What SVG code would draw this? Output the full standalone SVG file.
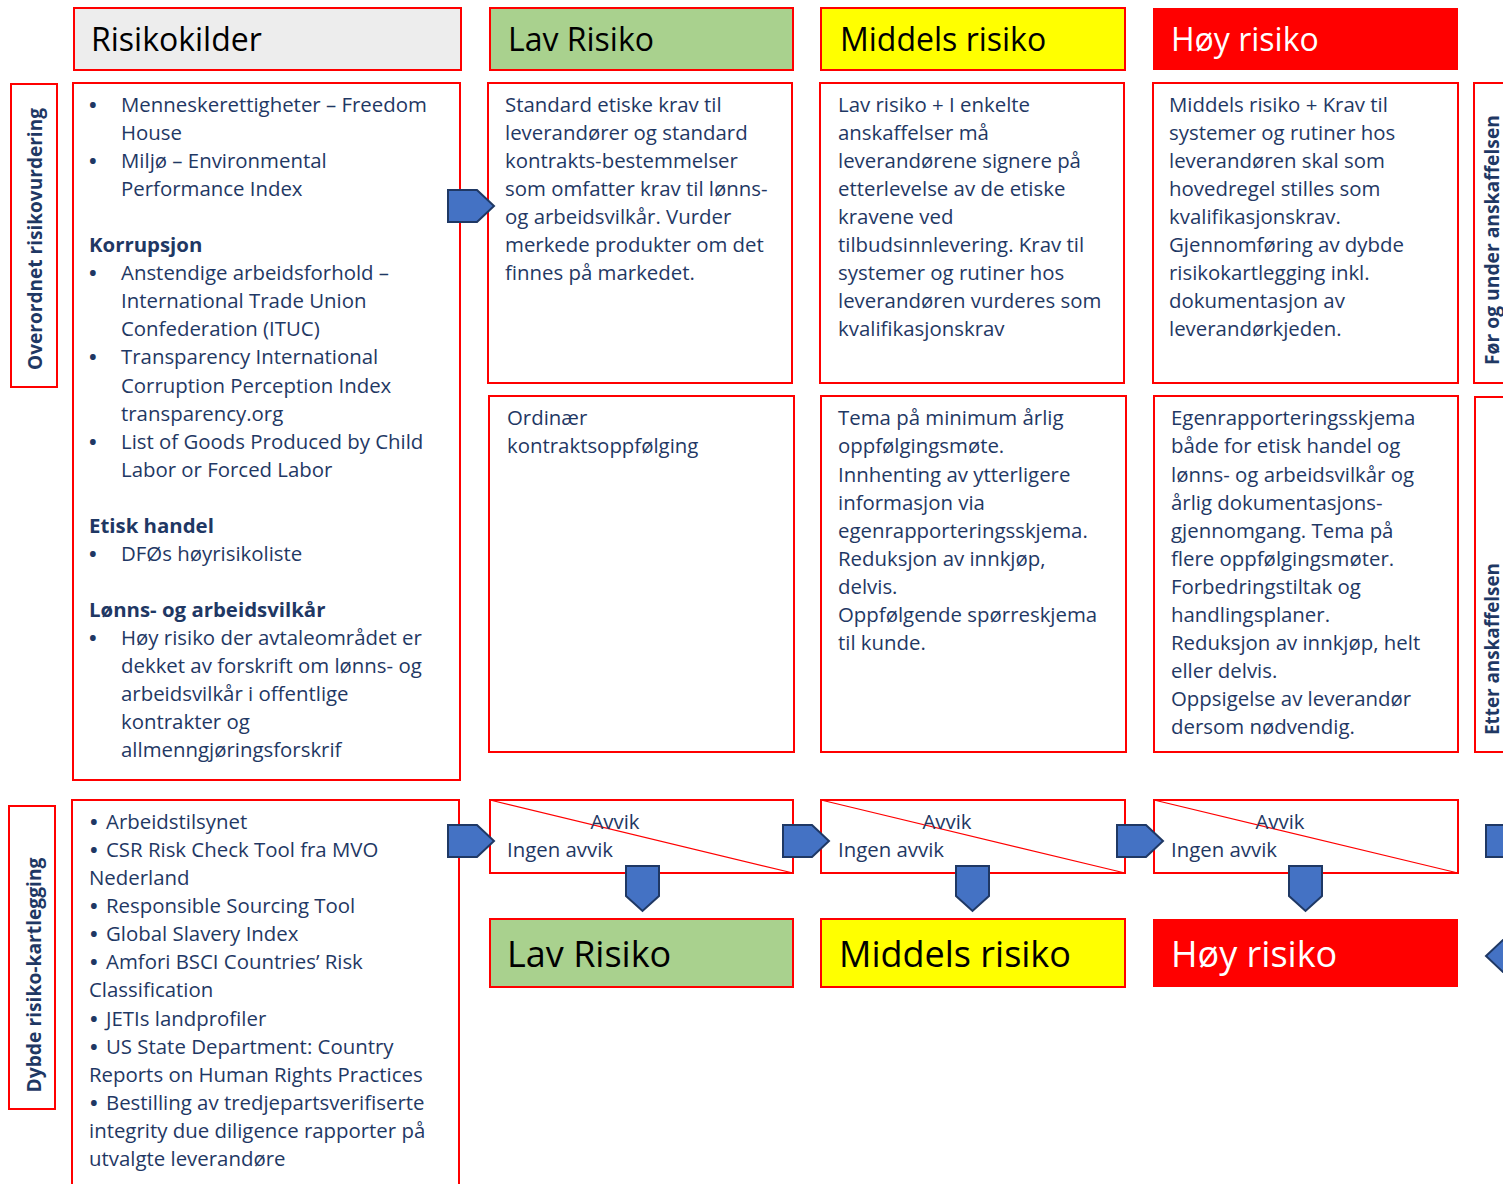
<svg xmlns="http://www.w3.org/2000/svg" width="1503" height="1184" viewBox="0 0 1503 1184">
<defs>
<style>
.box{fill:#fff;stroke:#ff0000;stroke-width:2}
.hdr{stroke:#ff0000;stroke-width:2}
.t{font-family:"Open Sans",Lato,"Liberation Sans",sans-serif;font-size:20.4px;fill:#1f3864}
.b{font-weight:bold}
.bl{font-weight:bold}
.h{font-family:"Open Sans",Lato,"Liberation Sans",sans-serif;font-size:32px;fill:#000}
.hb{font-family:"Open Sans",Lato,"Liberation Sans",sans-serif;font-size:36px;fill:#000}
.v{font-family:"Open Sans",Lato,"Liberation Sans",sans-serif;font-size:19px;font-weight:bold;fill:#1f3864}
.arr{fill:#4472c4;stroke:#1f3864;stroke-width:2;stroke-linejoin:miter}
.diag{stroke:#ff0000;stroke-width:1.2}
</style>
</defs>
<rect width="1503" height="1184" fill="#fff"/>

<g id="hdr-risikokilder"><rect class="hdr" x="74" y="8" width="387" height="62" fill="#ededed"/><text class="h" x="91" y="51">Risikokilder</text></g>
<g id="hdr-lav"><rect class="hdr" x="490" y="8" width="303" height="62" fill="#a9d18e"/><text class="h" x="508" y="51">Lav Risiko</text></g>
<g id="hdr-middels"><rect class="hdr" x="821" y="8" width="304" height="62" fill="#ffff00"/><text class="h" x="840" y="51">Middels risiko</text></g>
<g id="hdr-hoy"><rect x="1153" y="8" width="305" height="62" fill="#ff0000"/><text class="h" x="1171" y="51" style="fill:#fff">Høy risiko</text></g>

<g id="lbl-overordnet"><rect class="box" x="11" y="84" width="46" height="303"/><text class="v" transform="translate(42,239) rotate(-90)" text-anchor="middle" textLength="262" lengthAdjust="spacingAndGlyphs">Overordnet risikovurdering</text></g>
<g id="lbl-dybde"><rect class="box" x="9" y="806" width="46" height="303"/><text class="v" transform="translate(41,975) rotate(-90)" text-anchor="middle" textLength="235" lengthAdjust="spacingAndGlyphs">Dybde risiko-kartlegging</text></g>
<g id="lbl-for"><rect class="box" x="1474" y="83" width="40" height="300"/><text class="v" transform="translate(1499,240) rotate(-90)" text-anchor="middle" textLength="250" lengthAdjust="spacingAndGlyphs">Før og under anskaffelsen</text></g>
<g id="lbl-etter"><rect class="box" x="1475" y="397" width="40" height="355"/><text class="v" transform="translate(1499,649) rotate(-90)" text-anchor="middle" textLength="172" lengthAdjust="spacingAndGlyphs">Etter anskaffelsen</text></g>

<g id="risikokilder">
<rect class="box" x="73" y="83" width="387" height="697"/>
<text class="t">
<tspan x="89" y="112" class="bl">•</tspan><tspan x="121" y="112">Menneskerettigheter – Freedom</tspan>
<tspan x="121" y="140">House</tspan>
<tspan x="89" y="168" class="bl">•</tspan><tspan x="121" y="168">Miljø – Environmental</tspan>
<tspan x="121" y="196">Performance Index</tspan>
<tspan x="89" y="252" class="b">Korrupsjon</tspan>
<tspan x="89" y="280" class="bl">•</tspan><tspan x="121" y="280">Anstendige arbeidsforhold –</tspan>
<tspan x="121" y="308">International Trade Union</tspan>
<tspan x="121" y="336">Confederation (ITUC)</tspan>
<tspan x="89" y="364" class="bl">•</tspan><tspan x="121" y="364">Transparency International</tspan>
<tspan x="121" y="393">Corruption Perception Index</tspan>
<tspan x="121" y="421">transparency.org</tspan>
<tspan x="89" y="449" class="bl">•</tspan><tspan x="121" y="449">List of Goods Produced by Child</tspan>
<tspan x="121" y="477">Labor or Forced Labor</tspan>
<tspan x="89" y="533" class="b">Etisk handel</tspan>
<tspan x="89" y="561" class="bl">•</tspan><tspan x="121" y="561">DFØs høyrisikoliste</tspan>
<tspan x="89" y="617" class="b">Lønns- og arbeidsvilkår</tspan>
<tspan x="89" y="645" class="bl">•</tspan><tspan x="121" y="645">Høy risiko der avtaleområdet er</tspan>
<tspan x="121" y="673">dekket av forskrift om lønns- og</tspan>
<tspan x="121" y="701">arbeidsvilkår i offentlige</tspan>
<tspan x="121" y="729">kontrakter og</tspan>
<tspan x="121" y="757">allmenngjøringsforskrif</tspan>
</text>
</g>

<g id="lav-for">
<rect class="box" x="488" y="83" width="304" height="300"/>
<text class="t">
<tspan x="505" y="112">Standard etiske krav til</tspan>
<tspan x="505" y="140">leverandører og standard</tspan>
<tspan x="505" y="168">kontrakts-bestemmelser</tspan>
<tspan x="505" y="196">som omfatter krav til lønns-</tspan>
<tspan x="505" y="224">og arbeidsvilkår. Vurder</tspan>
<tspan x="505" y="252">merkede produkter om det</tspan>
<tspan x="505" y="280">finnes på markedet.</tspan>
</text>
</g>

<g id="middels-for">
<rect class="box" x="820" y="83" width="304" height="300"/>
<text class="t">
<tspan x="838" y="112">Lav risiko + I enkelte</tspan>
<tspan x="838" y="140">anskaffelser må</tspan>
<tspan x="838" y="168">leverandørene signere på</tspan>
<tspan x="838" y="196">etterlevelse av de etiske</tspan>
<tspan x="838" y="224">kravene ved</tspan>
<tspan x="838" y="252">tilbudsinnlevering. Krav til</tspan>
<tspan x="838" y="280">systemer og rutiner hos</tspan>
<tspan x="838" y="308">leverandøren vurderes som</tspan>
<tspan x="838" y="336">kvalifikasjonskrav</tspan>
</text>
</g>

<g id="hoy-for">
<rect class="box" x="1153" y="83" width="305" height="300"/>
<text class="t">
<tspan x="1169" y="112">Middels risiko + Krav til</tspan>
<tspan x="1169" y="140">systemer og rutiner hos</tspan>
<tspan x="1169" y="168">leverandøren skal som</tspan>
<tspan x="1169" y="196">hovedregel stilles som</tspan>
<tspan x="1169" y="224">kvalifikasjonskrav.</tspan>
<tspan x="1169" y="252">Gjennomføring av dybde</tspan>
<tspan x="1169" y="280">risikokartlegging inkl.</tspan>
<tspan x="1169" y="308">dokumentasjon av</tspan>
<tspan x="1169" y="336">leverandørkjeden.</tspan>
</text>
</g>

<g id="lav-etter">
<rect class="box" x="489" y="396" width="305" height="356"/>
<text class="t">
<tspan x="507" y="425">Ordinær</tspan>
<tspan x="507" y="453">kontraktsoppfølging</tspan>
</text>
</g>

<g id="middels-etter">
<rect class="box" x="821" y="396" width="305" height="356"/>
<text class="t">
<tspan x="838" y="425">Tema på minimum årlig</tspan>
<tspan x="838" y="453">oppfølgingsmøte.</tspan>
<tspan x="838" y="482">Innhenting av ytterligere</tspan>
<tspan x="838" y="510">informasjon via</tspan>
<tspan x="838" y="538">egenrapporteringsskjema.</tspan>
<tspan x="838" y="566">Reduksjon av innkjøp,</tspan>
<tspan x="838" y="594">delvis.</tspan>
<tspan x="838" y="622">Oppfølgende spørreskjema</tspan>
<tspan x="838" y="650">til kunde.</tspan>
</text>
</g>

<g id="hoy-etter">
<rect class="box" x="1154" y="396" width="304" height="356"/>
<text class="t">
<tspan x="1171" y="425">Egenrapporteringsskjema</tspan>
<tspan x="1171" y="453">både for etisk handel og</tspan>
<tspan x="1171" y="482">lønns- og arbeidsvilkår og</tspan>
<tspan x="1171" y="510">årlig dokumentasjons-</tspan>
<tspan x="1171" y="538">gjennomgang. Tema på</tspan>
<tspan x="1171" y="566">flere oppfølgingsmøter.</tspan>
<tspan x="1171" y="594">Forbedringstiltak og</tspan>
<tspan x="1171" y="622">handlingsplaner.</tspan>
<tspan x="1171" y="650">Reduksjon av innkjøp, helt</tspan>
<tspan x="1171" y="678">eller delvis.</tspan>
<tspan x="1171" y="706">Oppsigelse av leverandør</tspan>
<tspan x="1171" y="734">dersom nødvendig.</tspan>
</text>
</g>

<g id="dybde-kilder">
<rect class="box" x="72" y="800" width="387" height="400"/>
<text class="t">
<tspan x="90" y="829" class="bl">•</tspan><tspan x="106" y="829">Arbeidstilsynet</tspan>
<tspan x="90" y="857" class="bl">•</tspan><tspan x="106" y="857">CSR Risk Check Tool fra MVO</tspan>
<tspan x="89" y="885">Nederland</tspan>
<tspan x="90" y="913" class="bl">•</tspan><tspan x="106" y="913">Responsible Sourcing Tool</tspan>
<tspan x="90" y="941" class="bl">•</tspan><tspan x="106" y="941">Global Slavery Index</tspan>
<tspan x="90" y="969" class="bl">•</tspan><tspan x="106" y="969">Amfori BSCI Countries’ Risk</tspan>
<tspan x="89" y="997">Classification</tspan>
<tspan x="90" y="1026" class="bl">•</tspan><tspan x="106" y="1026">JETIs landprofiler</tspan>
<tspan x="90" y="1054" class="bl">•</tspan><tspan x="106" y="1054">US State Department: Country</tspan>
<tspan x="89" y="1082">Reports on Human Rights Practices</tspan>
<tspan x="90" y="1110" class="bl">•</tspan><tspan x="106" y="1110">Bestilling av tredjepartsverifiserte</tspan>
<tspan x="89" y="1138">integrity due diligence rapporter på</tspan>
<tspan x="89" y="1166">utvalgte leverandøre</tspan>
</text>
</g>

<g id="avvik-lav"><rect class="box" x="490" y="800" width="303" height="73"/><line class="diag" x1="490" y1="800" x2="793" y2="873"/><text class="t" x="615" y="829" text-anchor="middle">Avvik</text><text class="t" x="507" y="857">Ingen avvik</text></g>
<g id="avvik-middels"><rect class="box" x="821" y="800" width="304" height="73"/><line class="diag" x1="821" y1="800" x2="1125" y2="873"/><text class="t" x="947" y="829" text-anchor="middle">Avvik</text><text class="t" x="838" y="857">Ingen avvik</text></g>
<g id="avvik-hoy"><rect class="box" x="1154" y="800" width="304" height="73"/><line class="diag" x1="1154" y1="800" x2="1458" y2="873"/><text class="t" x="1280" y="829" text-anchor="middle">Avvik</text><text class="t" x="1171" y="857">Ingen avvik</text></g>

<g id="res-lav"><rect class="hdr" x="490" y="919" width="303" height="68" fill="#a9d18e"/><text class="hb" x="507" y="967">Lav Risiko</text></g>
<g id="res-middels"><rect class="hdr" x="821" y="919" width="304" height="68" fill="#ffff00"/><text class="hb" x="839" y="967">Middels risiko</text></g>
<g id="res-hoy"><rect x="1153" y="919" width="305" height="68" fill="#ff0000"/><text class="hb" x="1171" y="967" style="fill:#fff">Høy risiko</text></g>

<g id="connectors">
<polygon class="arr" points="448,190 477,190 494,206 477,222 448,222"/>
<polygon class="arr" points="448,825 477,825 494,841 477,857 448,857"/>
<polygon class="arr" points="783,825 812,825 829,841 812,857 783,857"/>
<polygon class="arr" points="1117,825 1146,825 1163,841 1146,857 1117,857"/>
<polygon class="arr" points="1486,825 1515,825 1532,841 1515,857 1486,857"/>
<polygon class="arr" points="626,866 659,866 659,896 642.5,911 626,896"/>
<polygon class="arr" points="956,866 989,866 989,896 972.5,911 956,896"/>
<polygon class="arr" points="1289,866 1322,866 1322,896 1305.5,911 1289,896"/>
<polygon class="arr" points="1486,956 1503,940 1530,940 1530,972 1503,972"/>
</g>
</svg>
